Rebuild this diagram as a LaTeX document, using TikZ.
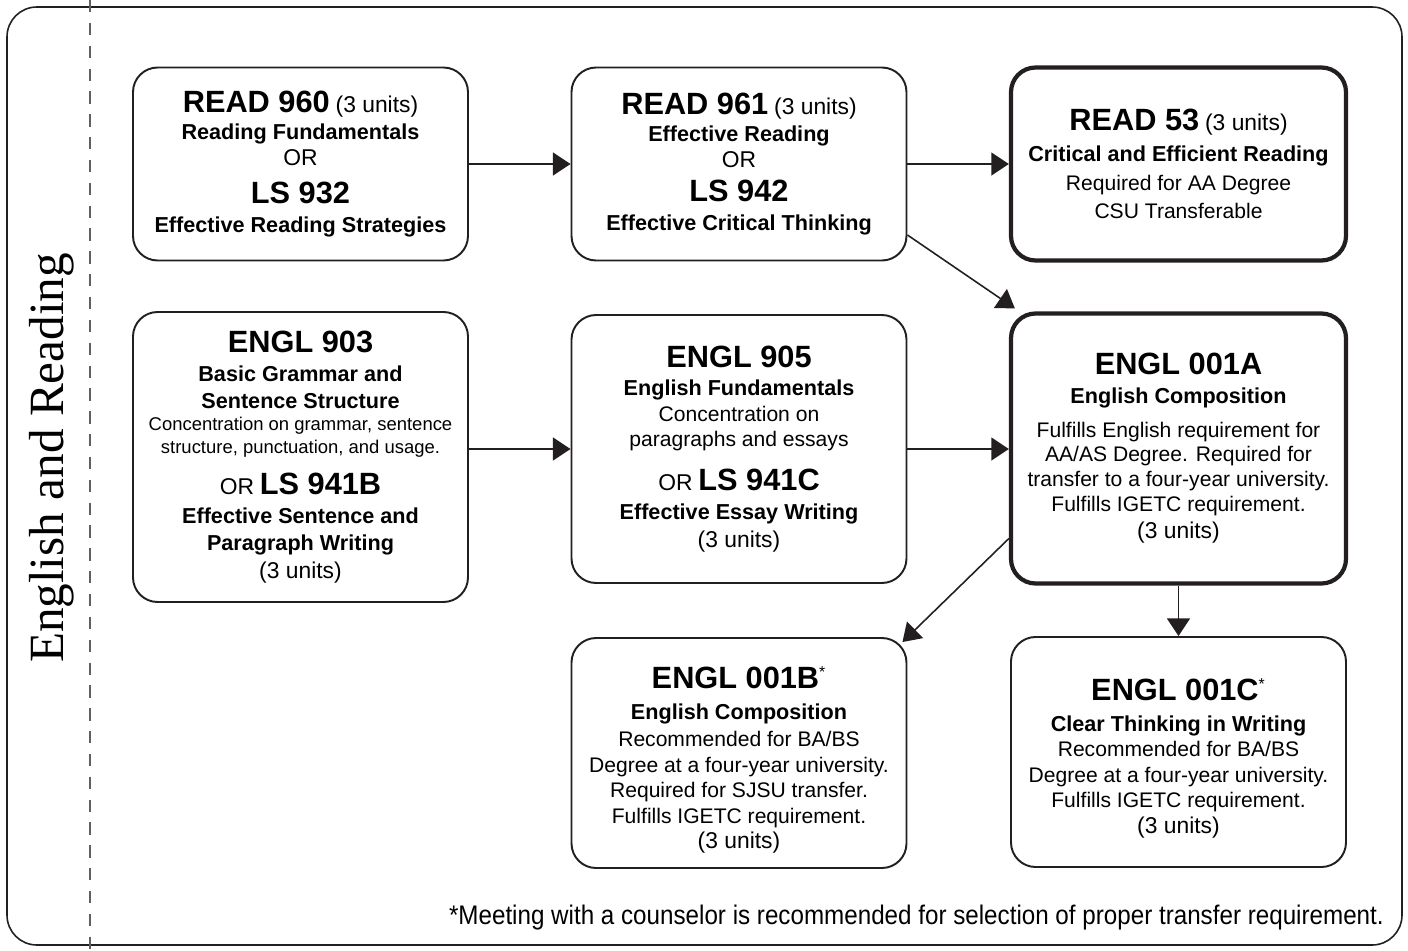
\documentclass[tikz,border=0pt]{standalone}
\usepackage{fontspec}
\setmainfont{Liberation Sans}
\newfontfamily\sideserif{Liberation Serif}
\newfontfamily\notefont[FakeStretch=0.9]{Liberation Sans}
\usetikzlibrary{arrows.meta, positioning}
\definecolor{pathblack}{HTML}{231F20}
\definecolor{pathgray}{HTML}{5F6062}
\newcommand{\crsnum}[1]{{\fontsize{17.5}{20}\selectfont\bfseries #1}}
\newcommand{\crsname}[1]{{\fontsize{12.3}{14.5}\selectfont\bfseries #1}}
\newcommand{\crsunits}{{\fontsize{13}{15}\selectfont (3 units)}}
\newcommand{\crsor}{{\fontsize{13}{15}\selectfont OR}}
\newcommand{\crsstar}{\textsuperscript{\mdseries\fontsize{9}{9}\selectfont *}}

\begin{document}
\begin{tikzpicture}[
      font=\fontsize{12}{14.5}\selectfont,
      box/.style={rounded corners=14pt, draw=pathblack, line width=1.1pt,
                  minimum width=6.7cm, inner sep=0pt, align=center},
      keybox/.style={box, line width=2.4pt},
      ar/.style={-{Triangle[length=10pt,width=13pt]}, pathblack, line width=0.9pt},
    ]
    \useasboundingbox (0,0) rectangle (28.16,-19.02);
    % frame and side band
    \draw[pathblack, line width=0.9pt, rounded corners=17pt] (0.14,-0.14) rectangle (28.04,-18.9);
    \draw[pathgray, line width=1.2pt, dash pattern=on 7pt off 6pt] (1.8,0) -- (1.8,-19.02);
    \node[rotate=90, font=\sideserif\fontsize{28}{30}\selectfont] (side) at (1.04,-9.16) {English and Reading};

    % reading track
    \node[box, minimum height=3.86cm] (read960) at (6.01,-3.28)
      {\crsnum{READ 960} \crsunits\\[1pt] \crsname{Reading Fundamentals}\\ \crsor\\[7pt]
       \crsnum{LS 932}\\[2pt] \crsname{Effective Reading Strategies}};
    \node[box, minimum height=3.86cm] (read961) at (14.78,-3.28)
      {\crsnum{READ 961} \crsunits\\[1pt] \crsname{Effective Reading}\\ \crsor\\[5pt]
       \crsnum{LS 942}\\[2pt] \crsname{Effective Critical Thinking}};
    \node[keybox, minimum height=3.86cm] (read53) at (23.57,-3.28)
      {\crsnum{READ 53} \crsunits\\[3pt] \crsname{Critical and Efficient Reading}\\[2pt]
       Required for AA Degree\\[1.5pt] CSU Transferable};

    % english track
    \node[box, minimum height=5.8cm] (engl903) at (6.01,-9.14)
      {\crsnum{ENGL 903}\\[2pt] \crsname{Basic Grammar and}\\[1pt] \crsname{Sentence Structure}\\[-2pt]
       {\fontsize{10.5}{12.5}\selectfont Concentration on grammar, sentence}\\[-1.5pt]
       {\fontsize{10.5}{12.5}\selectfont structure, punctuation, and usage.}\\[9pt]
       \crsor\ \crsnum{LS 941B}\\[2pt] \crsname{Effective Sentence and}\\[1pt]
       \crsname{Paragraph Writing}\\[1.5pt] \crsunits};
    \node[box, minimum height=5.36cm] (engl905) at (14.78,-8.98)
      {\crsnum{ENGL 905}\\[1.5pt] \crsname{English Fundamentals}\\ Concentration on\\
       paragraphs and essays\\[9pt] \crsor\ \crsnum{LS 941C}\\[2.5pt]
       \crsname{Effective Essay Writing}\\[1pt] \crsunits};
    \node[keybox, minimum height=5.4cm] (engl001a) at (23.57,-8.97)
      {\crsnum{ENGL 001A}\\[2pt] \crsname{English Composition}\\[4.3pt]
       Fulfills English requirement for\\[-0.8pt] AA/AS Degree. Required for\\[-0.3pt]
       transfer to a four-year university.\\ Fulfills IGETC requirement.\\[1pt] \crsunits};

    % upper division
    \node[box, minimum height=4.6cm] (engl001b) at (14.78,-15.06)
      {{}\\[6pt] \crsnum{ENGL 001B\crsstar}\\[3pt] \crsname{English Composition}\\[1pt]
       Recommended for BA/BS\\ Degree at a four-year university.\\
       Required for SJSU transfer.\\ Fulfills IGETC requirement.\\ \crsunits};
    \node[box, minimum height=4.6cm] (engl001c) at (23.57,-15.04)
      {{}\\[5pt] \crsnum{ENGL 001C\crsstar}\\[3pt] \crsname{Clear Thinking in Writing}\\
       Recommended for BA/BS\\ Degree at a four-year university.\\
       Fulfills IGETC requirement.\\ \crsunits};

    \node[anchor=east, font=\notefont\fontsize{15.3}{17}\selectfont] (note) at (27.8,-18.36)
      {*Meeting with a counselor is recommended for selection of proper transfer requirement.};

    \draw[ar] (read960) -- (read961);
    \draw[ar] (read961) -- (read53);
    \draw[ar] ([yshift=-1.42cm]read961.east) -- ([xshift=0.12cm,yshift=0.06cm]engl001a.north west);
    \draw[ar] (engl903.east |- engl905) -- (engl905.west);
    \draw[ar] (engl905.east) -- (engl001a.west |- engl905.east);
    \draw[ar] ([yshift=-1.8cm]engl001a.west) -- ([xshift=-0.1cm,yshift=-0.1cm]engl001b.north east);
    \draw[ar] (engl001a) -- (engl001c);
  \end{tikzpicture}
\end{document}
